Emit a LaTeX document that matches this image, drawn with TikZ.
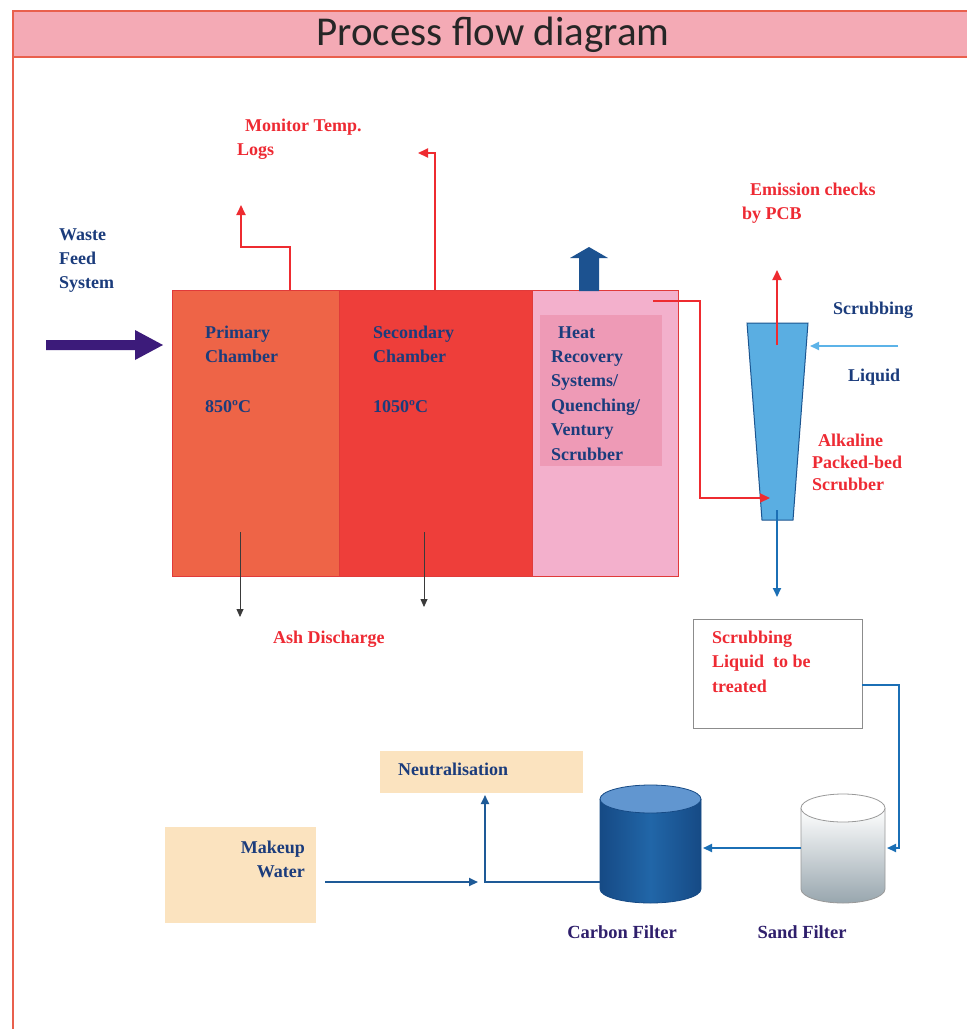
\documentclass[tikz,border=0pt]{standalone}
\usepackage{fontspec}
\setmainfont{Liberation Serif}
\newfontfamily\titlefont{Carlito}
\usetikzlibrary{arrows.meta}
\definecolor{framecol}{HTML}{E9604D}
\definecolor{titlefill}{HTML}{F4AAB5}
\definecolor{navy}{HTML}{1B3C7C}
\definecolor{redtxt}{HTML}{EE2A33}
\definecolor{redln}{HTML}{EE2B30}
\definecolor{primfill}{HTML}{EE6447}
\definecolor{secfill}{HTML}{EE3E3A}
\definecolor{heatfill}{HTML}{F3B0CC}
\definecolor{heatinner}{HTML}{EE9AB6}
\definecolor{chamberline}{HTML}{E03A3A}
\definecolor{scrubfill}{HTML}{5AAEE2}
\definecolor{scrubline}{HTML}{1C5590}
\definecolor{lightblue}{HTML}{5CB3E8}
\definecolor{midblue}{HTML}{1B6FB5}
\definecolor{darkblue}{HTML}{1E5A97}
\definecolor{blockblue}{HTML}{1C5290}
\definecolor{peach}{HTML}{FBE3BF}
\definecolor{feedpurple}{HTML}{3C1B7A}
\definecolor{filterlbl}{HTML}{2F1F6C}
\definecolor{boxgray}{HTML}{8C8C8C}
\definecolor{ashline}{HTML}{3A3A3A}
\definecolor{carbontop}{HTML}{6196D0}
\definecolor{carbonbody}{HTML}{2166A8}
\definecolor{carbondark}{HTML}{164A85}
\definecolor{sandgray}{HTML}{98A6AE}
\begin{document}
\begin{tikzpicture}[x=1pt,y=-1pt,
  lbl/.style={font=\bfseries\fontsize{18}{24}\selectfont, inner sep=0pt, align=left},
  navyt/.style={lbl, text=navy},
  redt/.style={lbl, text=redtxt},
  chamber/.style={draw=chamberline, line width=0.8pt, inner sep=0pt, anchor=north west},
  redarr/.style={draw=redln, line width=2pt, -{Triangle[length=10pt,width=9pt]}},
  asharr/.style={draw=ashline, line width=0.8pt, -{Triangle[length=8pt,width=7pt]}},
  bluearr/.style={draw=midblue, line width=2pt, -{Triangle[length=9pt,width=8pt]}},
  dbluearr/.style={draw=darkblue, line width=2pt, -{Triangle[length=9pt,width=8pt]}},
  lbluearr/.style={draw=lightblue, line width=2pt, -{Triangle[length=9pt,width=8pt]}},
  peachbox/.style={fill=peach, inner sep=0pt, anchor=north west}
]
\useasboundingbox (0,0) rectangle (967,1029);
\fill[white] (0,0) rectangle (967,1029);
% frame and title
\fill[titlefill] (13,11) rectangle (967,57);
\draw[framecol, line width=2pt] (968,11) -- (13,11) -- (13,1029);
\draw[framecol, line width=2pt] (13,57) -- (968,57);
\node[font=\titlefont\fontsize{41}{46}\selectfont, text=black!85, inner sep=0pt, anchor=base] (title) at (493,45) {Process flow diagram};

% chambers
\node[chamber, fill=primfill, minimum width=167, minimum height=286] (prim) at (172,290) {};
\node[chamber, fill=secfill, minimum width=193, minimum height=286] (sec) at (339,290) {};
\node[chamber, fill=heatfill, minimum width=146, minimum height=286] (heat) at (532,290) {};
\node[fill=heatinner, inner sep=0pt, anchor=north west, minimum width=122, minimum height=151] (heatin) at (540,315) {};

\node[navyt, anchor=base west] (primt) at (205,412) {Primary\\Chamber\\[26pt]850ºC};
\node[navyt, anchor=base west] (sect) at (373,412) {Secondary\\Chamber\\[26pt]1050ºC};
\node[lbl, text=navy, font=\bfseries\fontsize{18}{24.4}\selectfont, anchor=base west] (heatt) at (551,460) {\hspace*{7pt}Heat\\Recovery\\Systems/\\Quenching/\\Ventury\\Scrubber};

% waste feed
\node[navyt, anchor=base west] (feedt) at (59,288) {Waste\\Feed\\System};
\fill[feedpurple] (46,340) -- (135,340) -- (135,330) -- (163,345) -- (135,360) -- (135,350) -- (46,350) -- cycle;

% monitor temp
\node[redt, anchor=base west] (mont) at (237,155) {\hspace*{8pt}Monitor Temp.\\Logs};
\coordinate (mon1s) at (290,290);
\coordinate (mon1b) at (290,247);
\coordinate (mon1c) at (241,247);
\coordinate (mon1e) at (241,205);
\draw[redarr] (mon1s) -- (mon1b) -- (mon1c) -- (mon1e);
\coordinate (mon2s) at (435,290);
\coordinate (mon2b) at (435,153);
\coordinate (mon2e) at (418,153);
\draw[redarr] (mon2s) -- (mon2b) -- (mon2e);

% heat block arrow
\fill[blockblue] (579,291) -- (579,258) -- (570,258) -- (589,247) -- (608,258) -- (599,258) -- (599,291) -- cycle;

% ash discharge
\coordinate (ash1s) at (240,532);
\coordinate (ash1e) at (240,617);
\coordinate (ash2s) at (424,532);
\coordinate (ash2e) at (424,607);
\draw[asharr] (ash1s) -- (ash1e);
\draw[asharr] (ash2s) -- (ash2e);
\node[redt, anchor=base west] (asht) at (273,643) {Ash Discharge};

% scrubber
\filldraw[fill=scrubfill, draw=scrubline, line width=1pt] (747,323) -- (808,323) -- (793,520) -- (762,520) -- cycle;
\node[inner sep=0pt, minimum width=46, minimum height=197] (scrub) at (777.5,421.5) {};
\coordinate (hs) at (653,301);
\coordinate (hb1) at (700,301);
\coordinate (hb2) at (700,498);
\coordinate (he) at (770,498);
\draw[redarr] (hs) -- (hb1) -- (hb2) -- (he);
\coordinate (ems) at (777,345);
\coordinate (eme) at (777,270);
\draw[redarr] (ems) -- (eme);
\node[redt, anchor=base west] (emt) at (742,219) {\hspace*{8pt}Emission checks\\by PCB};
\node[navyt, anchor=base west] (scrt) at (833,314) {Scrubbing};
\node[navyt, anchor=base west] (liqt) at (848,381) {Liquid};
\coordinate (sls) at (898,346);
\coordinate (sle) at (810,346);
\draw[lbluearr] (sls) -- (sle);
\node[redt, font=\bfseries\fontsize{18}{22}\selectfont, anchor=base west] (alkt) at (812,490) {\hspace*{6pt}Alkaline\\Packed-bed\\Scrubber};
\coordinate (sds) at (777,510);
\coordinate (sde) at (777,597);
\draw[bluearr] (sds) -- (sde);

% scrubbing liquid box
\node[draw=boxgray, line width=0.8pt, inner sep=0pt, anchor=north west, minimum width=169, minimum height=109] (slbox) at (693,619) {};
\node[redt, font=\bfseries\fontsize{18}{24.5}\selectfont, anchor=base west] (slt) at (712,692) {Scrubbing\\Liquid~ to be\\treated};

% sand filter
\shade[top color=white, middle color=white, bottom color=sandgray] (801,808) -- (801,889) arc[start angle=180, end angle=0, x radius=42, y radius=14] -- (885,808) -- cycle;
\draw[draw=gray!80, line width=0.8pt] (801,808) -- (801,889) arc[start angle=180, end angle=0, x radius=42, y radius=14] -- (885,808);
\filldraw[fill=white, draw=gray!80, line width=0.8pt] (843,808) ellipse[x radius=42, y radius=14];
\node[inner sep=0pt, minimum width=84, minimum height=109] (sand) at (843,848.5) {};
\node[lbl, text=filterlbl, font=\bfseries\fontsize{18.5}{24}\selectfont, anchor=base] (sandt) at (802,938) {Sand Filter};

% carbon filter
\shade[left color=carbondark, right color=carbondark, middle color=carbonbody] (600,799) -- (600,889) arc[start angle=180, end angle=0, x radius=50.5, y radius=14] -- (701,799) -- cycle;
\draw[draw=carbondark, line width=0.8pt] (600,799) -- (600,889) arc[start angle=180, end angle=0, x radius=50.5, y radius=14] -- (701,799);
\filldraw[fill=carbontop, draw=carbondark, line width=0.8pt] (650.5,799) ellipse[x radius=50.5, y radius=14];
\node[inner sep=0pt, minimum width=101, minimum height=118] (carbon) at (650.5,844) {};
\node[lbl, text=filterlbl, font=\bfseries\fontsize{18.5}{24}\selectfont, anchor=base] (carbont) at (622,938) {Carbon Filter};

% connectors in lower part
\coordinate (bx1) at (862,685);
\coordinate (bx2) at (899,685);
\coordinate (bx3) at (899,848);
\coordinate (bx4) at (887,848);
\draw[bluearr] (bx1) -- (bx2) -- (bx3) -- (bx4);
\coordinate (sc1) at (801,848);
\coordinate (sc2) at (703,848);
\draw[bluearr] (sc1) -- (sc2);

% neutralisation & makeup water
\node[peachbox, minimum width=203, minimum height=42] (neut) at (380,751) {};
\node[navyt, anchor=base west] (neutt) at (398,775) {Neutralisation};
\node[peachbox, minimum width=151, minimum height=96] (mkup) at (165,827) {};
\node[navyt, align=right, anchor=base east] (mkupt) at (305,877) {Makeup\\Water};
\coordinate (mw1) at (325,882);
\coordinate (mw2) at (478,882);
\draw[dbluearr] (mw1) -- (mw2);
\coordinate (cn1) at (600,882);
\coordinate (cn2) at (485,882);
\coordinate (cn3) at (485,795);
\draw[dbluearr] (cn1) -- (cn2) -- (cn3);
\end{tikzpicture}
\end{document}
